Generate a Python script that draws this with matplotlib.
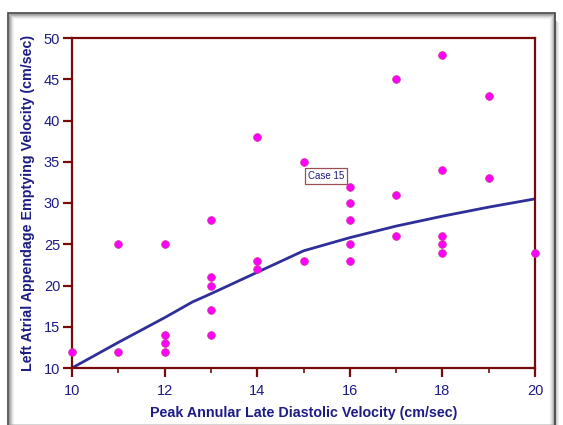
import numpy as np
import matplotlib.pyplot as plt
from matplotlib.patches import Rectangle

plt.rcParams['font.family'] = ['Liberation Sans', 'DejaVu Sans']

# scatter data
peak_a = [10, 11, 11, 12, 12, 12, 12, 13, 13, 13, 13, 13, 14, 14, 14, 15, 15,
          16, 16, 16, 16, 16, 17, 17, 17, 18, 18, 18, 18, 18, 19, 19, 20]
laa_vel = [12, 25, 12, 25, 14, 13, 12, 28, 21, 20, 17, 14, 38, 23, 22, 35, 23,
           32, 30, 28, 25, 23, 45, 31, 26, 48, 34, 26, 25, 24, 43, 33, 24]

# fitted curve
fit_x = [10, 11, 12, 12.6, 13, 14, 15, 16, 17, 18, 19, 20]
fit_y = [10, 13.1, 16.1, 18, 19.0, 21.6, 24.2, 25.8, 27.2, 28.4, 29.5, 30.5]

navy = '#1c1c84'
red = '#7a0a0a'

fig = plt.figure(figsize=(5.63, 4.25), dpi=100)
W, H = 563, 425

# frame with shadow
for i, a in enumerate([0.35, 0.22, 0.14, 0.08, 0.04]):
    fig.patches.append(Rectangle(((9 + i) / W, 0), (545 - 2 * i) / W, (411 - i) / H,
                                 transform=fig.transFigure, fill=False,
                                 edgecolor='black', alpha=a, lw=1))
for i, a in enumerate([0.3, 0.2, 0.12, 0.06]):
    fig.patches.append(Rectangle(((555 + i) / W, 0), 1 / W, (405 - i) / H,
                                 transform=fig.transFigure, color='black', alpha=a, lw=0))
fig.patches.append(Rectangle((8 / W, -0.01), 547 / W, 412 / H + 0.01,
                             transform=fig.transFigure, fill=False,
                             edgecolor='#444444', lw=1.2))

ax = fig.add_axes([72 / W, 57 / H, 463 / W, 330 / H])
ax.plot(fit_x, fit_y, color='#2f2f9a', lw=2, zorder=2)
ax.plot(peak_a, laa_vel, 'o', color='#ff00ff', markeredgecolor='#d0309a',
        markeredgewidth=0.6, markersize=5.5, zorder=3, clip_on=False)

ax.annotate('Case 15', xy=(15, 35), xytext=(3, -10), textcoords='offset points',
            fontsize=7, color=navy, ha='left', va='center',
            bbox=dict(boxstyle='square,pad=0.3', fc='white', ec='#9a5050', lw=0.9))

ax.set_xlim(10, 20)
ax.set_ylim(10, 50)
ax.set_xticks([10, 12, 14, 16, 18, 20])
ax.set_xticks([11, 13, 15, 17, 19], minor=True)
ax.set_yticks([10, 15, 20, 25, 30, 35, 40, 45, 50])

for s in ax.spines.values():
    s.set_color(red)
    s.set_linewidth(1.6)
ax.tick_params(axis='both', which='major', direction='out', length=6.5, width=1.6,
               color=red, labelcolor=navy, labelsize=10.5, pad=2)
ax.tick_params(axis='x', which='minor', direction='out', length=3.5, width=1.2, color=red)
ax.tick_params(axis='x', which='major', pad=5)

ax.set_xlabel('Peak Annular Late Diastolic Velocity (cm/sec)', fontsize=10.3,
              fontweight='bold', color=navy, labelpad=6)
ax.set_ylabel('Left Atrial Appendage Emptying Velocity (cm/sec)', fontsize=10.3,
              fontweight='bold', color=navy, labelpad=6)

fig.savefig('out.png', dpi=100)
